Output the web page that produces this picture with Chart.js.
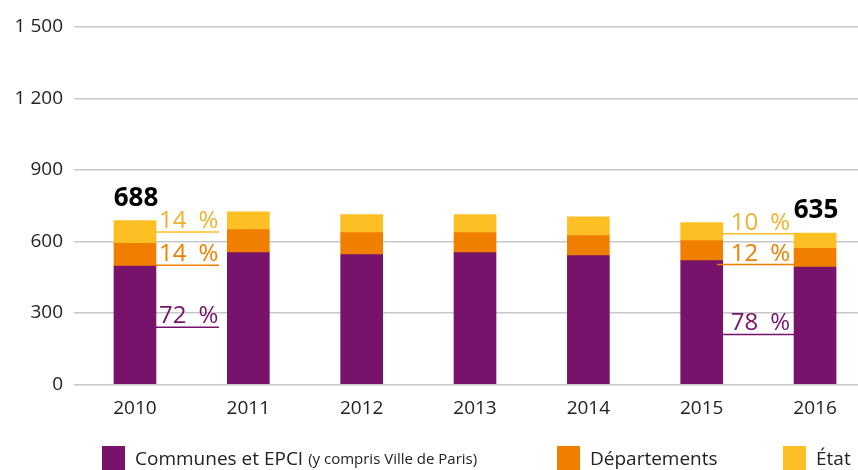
<!DOCTYPE html>
<html>
<head>
<meta charset="utf-8">
<script src="https://cdn.jsdelivr.net/npm/chart.js@4.4.0/dist/chart.umd.min.js"></script>
<style>
  html, body { margin: 0; padding: 0; background: #fff; }
  #wrap { position: relative; width: 858px; height: 470px; font-family: "Open Sans", sans-serif; color: #222; }
  #wrap canvas { position: absolute; left: 0; top: 0; }
  .leg { position: absolute; top: 446px; height: 24px; display: flex; align-items: center; font-size: 19px; white-space: nowrap; }
  .leg i { display: inline-block; width: 23px; height: 24px; margin-right: 10px; }
  .leg small { font-size: 15px; }
</style>
</head>
<body>
<div id="wrap">
  <canvas id="chart" width="858" height="470"></canvas>
  <div class="leg" style="left:102px"><i style="background:#77136a"></i>Communes et EPCI&nbsp;<small>(y compris Ville de Paris)</small></div>
  <div class="leg" style="left:557px"><i style="background:#f07f00"></i>Départements</div>
  <div class="leg" style="left:783px"><i style="background:#fcbf24"></i>État</div>
</div>
<script>
// années et montants (en millions)
const years = [2010, 2011, 2012, 2013, 2014, 2015, 2016];
const communes = [497, 553, 545, 553, 541, 520, 493];
const departements = [95, 97, 92, 84, 84, 84, 78];
const etat = [96, 75, 76, 76, 79, 75, 64];
const yTicks = [0, 300, 600, 900, 1200, 1500];

const colors = ['#77136a', '#f07f00', '#fcbf24'];
const textColors = ['#77136a', '#f07f00', '#f0b12c'];
const series = [communes, departements, etat];

// format "1 500"
function fmt(v) {
    if (v >= 1000) return Math.floor(v / 1000) + ' ' + String(v % 1000).padStart(3, '0');
    return String(v);
}

// étiquettes de pourcentage pour 2010 et 2016
const callouts = [
    { index: 0, side: 'right', length: 63, at: [240, 500, 640] },
    { index: 6, side: 'left', length: 77, at: [210, 503, 633] }
];

const calloutPlugin = {
    id: 'callouts',
    afterDatasetsDraw(chart) {
        const ctx = chart.ctx;
        const xs = chart.scales.x, ys = chart.scales.y;
        const half = 21;
        ctx.save();
        callouts.forEach(c => {
            const i = c.index;
            const total = communes[i] + departements[i] + etat[i];
            const cx = xs.getPixelForValue(years[i]);
            let x0, x1;
            if (c.side === 'right') { x0 = cx + half; x1 = x0 + c.length; }
            else { x1 = cx - half; x0 = x1 - c.length; }
            series.forEach((s, d) => {
                const y = ys.getPixelForValue(c.at[d]);
                ctx.strokeStyle = colors[d];
                ctx.lineWidth = 1.5;
                ctx.beginPath();
                ctx.moveTo(x0, y);
                ctx.lineTo(x1, y);
                ctx.stroke();
                ctx.fillStyle = textColors[d];
                ctx.font = '24px "Open Sans"';
                ctx.textBaseline = 'alphabetic';
                const txt = Math.round(s[i] / total * 100) + '\u2002%';
                if (c.side === 'right') { ctx.textAlign = 'left'; ctx.fillText(txt, x0 + 3, y - 4); }
                else { ctx.textAlign = 'right'; ctx.fillText(txt, x1 - 4, y - 4); }
            });
            // total
            ctx.fillStyle = '#000';
            ctx.font = 'bold 26px "Open Sans"';
            ctx.textAlign = 'center';
            ctx.fillText(String(total), cx + 1, ys.getPixelForValue(total) - 15);
        });
        ctx.restore();
    }
};

new Chart(document.getElementById('chart'), {
    type: 'bar',
    data: {
        labels: years,
        datasets: [
            { label: 'Communes et EPCI', data: communes, backgroundColor: colors[0] },
            { label: 'Départements', data: departements, backgroundColor: colors[1] },
            { label: 'État', data: etat, backgroundColor: colors[2] }
        ]
    },
    options: {
        responsive: false,
        animation: false,
        layout: { padding: { top: 27, right: 0, bottom: 0, left: 0 } },
        datasets: { bar: { barThickness: 42, borderWidth: 0 } },
        plugins: { legend: { display: false }, tooltip: { enabled: false } },
        scales: {
            x: {
                type: 'linear',
                stacked: true,
                offset: false,
                min: 2009.462,
                max: 2016.379,
                afterBuildTicks: (scale) => { scale.ticks = years.map(v => ({ value: v })); },
                afterFit: (scale) => { scale.height = 85.5; },
                grid: { display: false, drawTicks: false, offset: false },
                border: { display: false },
                ticks: {
                    padding: 13,
                    color: '#222',
                    font: { family: 'Open Sans', size: 19 },
                    callback: (v) => String(v),
                    maxRotation: 0,
                    autoSkip: false
                }
            },
            y: {
                stacked: true,
                min: 0,
                max: 1500,
                afterBuildTicks: (scale) => { scale.ticks = yTicks.map(v => ({ value: v })); },
                afterFit: (scale) => { scale.width = 74; },
                grid: { color: '#c8c8c8', lineWidth: 1.5, drawTicks: false },
                border: { display: false },
                ticks: {
                    padding: 11,
                    color: '#222',
                    font: { family: 'Open Sans', size: 19 },
                    callback: (v) => fmt(v)
                }
            }
        }
    },
    plugins: [calloutPlugin]
});
</script>
</body>
</html>
